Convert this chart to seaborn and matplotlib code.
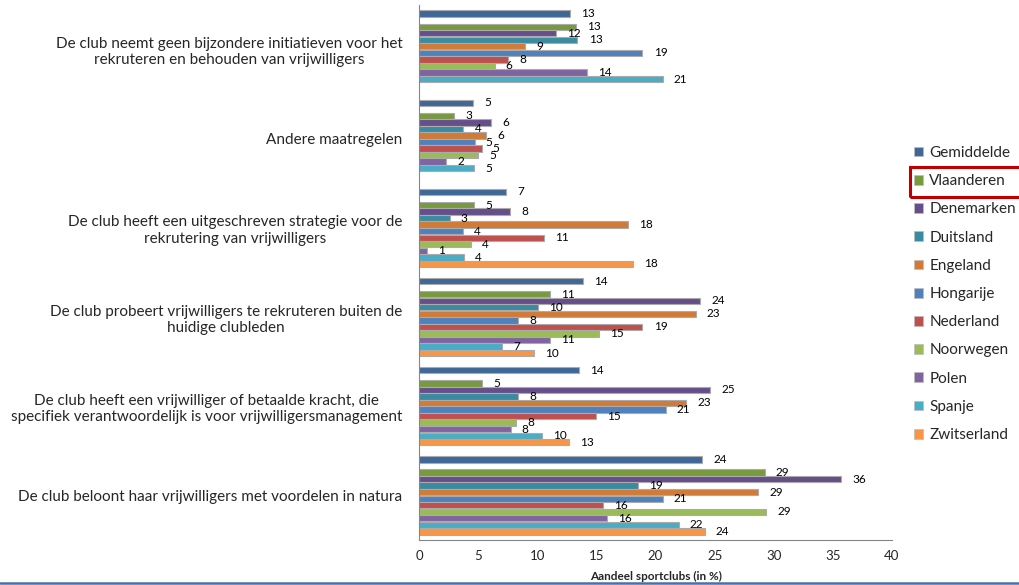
import numpy as np
import pandas as pd
import matplotlib.pyplot as plt
import seaborn as sns
from matplotlib.patches import Patch, Rectangle
from matplotlib.lines import Line2D

# Categories, top to bottom
categories = [
    "De club neemt geen bijzondere initiatieven voor het\nrekruteren en behouden van vrijwilligers",
    "Andere maatregelen",
    "De club heeft een uitgeschreven strategie voor de\nrekrutering van vrijwilligers",
    "De club probeert vrijwilligers te rekruteren buiten de\nhuidige clubleden",
    "De club heeft een vrijwilliger of betaalde kracht, die\nspecifiek verantwoordelijk is voor vrijwilligersmanagement",
    "De club beloont haar vrijwilligers met voordelen in natura",
]

# Share of clubs (%) per country, same order as categories (None = no bar)
gemiddelde = [12.8, 4.6, 7.35, 13.9, 13.55, 23.95]
vlaanderen = [13.3, 3.0, 4.65, 11.1, 5.35, 29.25]
denemarken = [11.6, 6.1, 7.7, 23.8, 24.6, 35.7]
duitsland = [13.4, 3.75, 2.6, 10.1, 8.4, 18.55]
engeland = [9.0, 5.7, 17.7, 23.4, 22.6, 28.7]
hongarije = [18.9, 4.7, 3.7, 8.4, 20.85, 20.6]
nederland = [7.55, 5.3, 10.6, 18.9, 15.0, 15.55]
noorwegen = [6.4, 5.0, 4.4, 15.2, 8.2, 29.35]
polen = [14.2, 2.3, 0.65, 11.1, 7.75, 15.9]
spanje = [20.6, 4.65, 3.8, 7.0, 10.4, 21.95]
zwitserland = [None, None, 18.1, 9.75, 12.65, 24.15]

series_names = ["Gemiddelde", "Vlaanderen", "Denemarken", "Duitsland", "Engeland",
                "Hongarije", "Nederland", "Noorwegen", "Polen", "Spanje", "Zwitserland"]
series_values = [gemiddelde, vlaanderen, denemarken, duitsland, engeland,
                 hongarije, nederland, noorwegen, polen, spanje, zwitserland]
series_colors = ["#3F6797", "#789A3F", "#654E8A", "#3A8BA1", "#D27B36",
                 "#4F81BD", "#C0504D", "#9BBB59", "#8064A2", "#4BACC6", "#F79646"]

# empty slot between the average and the first country
BLANK = " "


def build_frame() -> pd.DataFrame:
    # Long format table for seaborn
    rows = []
    for name, values in zip(series_names, series_values):
        for cat, val in zip(categories, values):
            if val is not None:
                rows.append({"categorie": cat, "land": name, "aandeel": val})
    return pd.DataFrame(rows)


def main():
    data = build_frame()

    sns.set_style("white")
    plt.rcParams["font.family"] = ["Lato", "DejaVu Sans"]

    fig = plt.figure(figsize=(10.19, 5.85), dpi=100)
    ax = fig.add_axes([419 / 1019, 1 - 540 / 585, 473 / 1019, 535 / 585])

    hue_order = [series_names[0], BLANK] + series_names[1:]
    palette = dict(zip(series_names, series_colors))
    palette[BLANK] = "white"

    sns.barplot(data=data, x="aandeel", y="categorie", hue="land",
                order=categories, hue_order=hue_order, palette=palette,
                orient="h", width=0.88, gap=0.03, legend=False, ax=ax,
                edgecolor="#ABABAB", linewidth=0.8, saturation=1, errorbar=None)

    # Value labels next to the bars
    for container in ax.containers:
        ax.bar_label(container, fmt="%.0f", padding=8, fontsize=8.5, color="black")

    # Axes styling
    ax.set_xlim(0, 40)
    ax.set_xticks(np.arange(0, 41, 5))
    ax.set_ylim(len(categories) - 0.5, -0.5)
    ax.set_yticks(range(len(categories)), minor=False)
    ax.set_yticks(np.arange(-0.5, len(categories)), minor=True)
    ax.set_yticklabels(categories, multialignment="center")
    ax.tick_params(axis="y", which="major", length=0, pad=12, labelsize=11)
    ax.tick_params(axis="y", which="minor", length=4, direction="out", color="#868686", width=0.8)
    ax.tick_params(axis="x", length=4, direction="out", color="#868686", width=0.8, labelsize=9.5)
    ax.set_ylabel("")
    ax.set_xlabel("Aandeel sportclubs (in %)", fontsize=8.5, fontweight="bold", labelpad=6)
    for side in ["top", "right"]:
        ax.spines[side].set_visible(False)
    for side in ["left", "bottom"]:
        ax.spines[side].set_color("#868686")
        ax.spines[side].set_linewidth(0.8)

    # Legend on the right
    handles = [Patch(facecolor=c, edgecolor="#BDBDBD", linewidth=0.5) for c in series_colors]
    fig.legend(handles, series_names, loc="upper left", bbox_to_anchor=(914 / 1019, 1 - 146 / 585),
               frameon=False, fontsize=11, handlelength=0.6, handleheight=0.6,
               handletextpad=0.4, labelspacing=0.93, borderaxespad=0, borderpad=0)

    # Red highlight box around Vlaanderen
    fig.patches.append(Rectangle((910 / 1019, 1 - 197 / 585), 120 / 1019, 30 / 585,
                                 transform=fig.transFigure, fill=False,
                                 edgecolor="#C00000", linewidth=2.2, clip_on=False))

    # Blue rule at the bottom
    fig.add_artist(Line2D([0, 1], [1 - 582.5 / 585] * 2, transform=fig.transFigure,
                          color="#4A6FA5", linewidth=1.8))

    plt.savefig("out.png", dpi=100)


if __name__ == "__main__":
    main()
